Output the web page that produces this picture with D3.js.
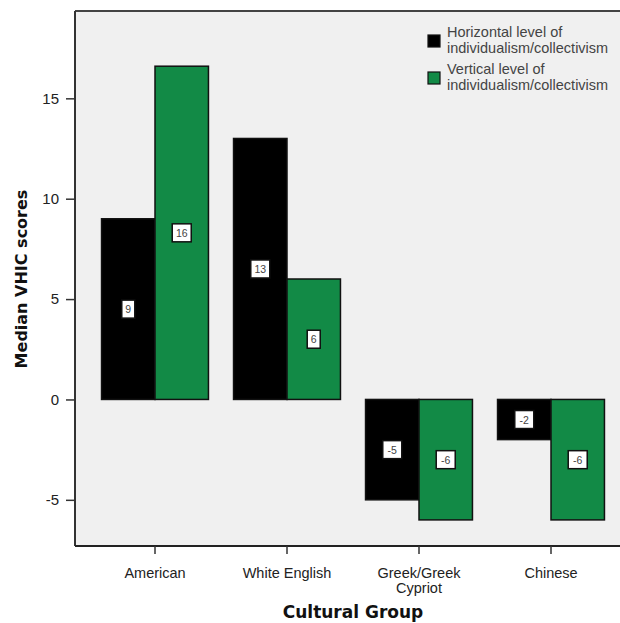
<!DOCTYPE html>
<html><head><meta charset="utf-8">
<script src="https://cdn.jsdelivr.net/npm/d3@7"></script>
<style>body{margin:0;background:#fff}svg{display:block}</style>
</head><body>
<script>
const categories = ["American", "White English", "Greek/Greek Cypriot", "Chinese"];
const categoryLines = [["American"], ["White English"], ["Greek/Greek", "Cypriot"], ["Chinese"]];
const seriesNames = ["Horizontal level of individualism/collectivism", "Vertical level of individualism/collectivism"];
const legendLines = [["Horizontal level of", "individualism/collectivism"], ["Vertical level of", "individualism/collectivism"]];
const horizontalValues = [9, 13, -5, -2];
const verticalValues = [16.6, 6, -6, -6];
const yTicks = [-5, 0, 5, 10, 15];
const colors = ["#000000", "#128a46"];

const W = 620, H = 623;
const pLeft = 75, pTop = 11, pBottom = 546;
const svg = d3.select("body").append("svg").attr("width", W).attr("height", H);

const x = d3.scaleBand().domain(categories).range([89, 617]).paddingInner(0.19).paddingOuter(0.095);
const xs = d3.scaleBand().domain([0, 1]).range([0, x.bandwidth()]);
const y = d3.scaleLinear().domain([-7.3, 19.35]).range([pBottom, pTop]);

svg.append("rect").attr("x", pLeft).attr("y", pTop).attr("width", W - pLeft + 5).attr("height", pBottom - pTop)
  .attr("fill", "#f0f0f0");
svg.append("line").attr("x1", pLeft).attr("x2", W).attr("y1", pTop).attr("y2", pTop).attr("stroke", "#444").attr("stroke-width", 2);

const data = categories.map((c, i) => ({c, vals: [horizontalValues[i], verticalValues[i]]}));
const g = svg.append("g");
data.forEach(d => {
  d.vals.forEach((v, k) => {
    const bx = x(d.c) + xs(k);
    g.append("rect").attr("x", bx).attr("width", xs.bandwidth())
      .attr("y", y(Math.max(0, v))).attr("height", Math.abs(y(v) - y(0)))
      .attr("fill", colors[k]).attr("stroke", "#111").attr("stroke-width", 1.5);
  });
});
data.forEach(d => {
  d.vals.forEach((v, k) => {
    const cx = x(d.c) + xs(k) + xs.bandwidth() / 2;
    const cy = y(v / 2);
    const txt = String(Math.trunc(v));
    const w = txt.length * 6 + 7;
    g.append("rect").attr("x", cx - w / 2).attr("y", cy - 9).attr("width", w).attr("height", 18)
      .attr("fill", "#fff").attr("stroke", "#111").attr("stroke-width", 1.5);
    g.append("text").attr("x", cx).attr("y", cy + 4).attr("text-anchor", "middle")
      .attr("font-family", "Liberation Sans, Arial, sans-serif").attr("font-size", 10.5).attr("fill", "#444").text(txt);
  });
});

const yAxis = svg.append("g").attr("transform", `translate(${pLeft},0)`)
  .call(d3.axisLeft(y).tickValues(yTicks).tickSize(9).tickPadding(7).tickFormat(d => String(d)));
yAxis.select(".domain").attr("stroke", "#333").attr("stroke-width", 2).attr("d", `M0,${pTop}V${pBottom}`);
yAxis.selectAll(".tick line").attr("stroke", "#333").attr("stroke-width", 1.5);
yAxis.selectAll(".tick text").attr("font-family", "Liberation Sans, Arial, sans-serif").attr("font-size", 15).attr("fill", "#222");

const xAxis = svg.append("g").attr("transform", `translate(0,${pBottom})`)
  .call(d3.axisBottom(x).tickSize(8).tickFormat(""));
xAxis.select(".domain").attr("stroke", "#222").attr("stroke-width", 2).attr("d", `M${pLeft},0H${W}`);
xAxis.selectAll(".tick line").attr("stroke", "#333").attr("stroke-width", 1.5);
xAxis.selectAll(".tick").each(function(d, i) {
  const t = d3.select(this).append("text").attr("fill", "#222").attr("text-anchor", "middle")
    .attr("font-family", "Liberation Sans, Arial, sans-serif").attr("font-size", 14.5).attr("y", 32);
  categoryLines[i].forEach((ln, j) => t.append("tspan").attr("x", 0).attr("dy", j === 0 ? 0 : 15).text(ln));
});

svg.append("text").attr("x", 353).attr("y", 618).attr("text-anchor", "middle")
  .attr("font-family", "DejaVu Sans, Verdana, sans-serif").attr("font-weight", "bold").attr("font-size", 17)
  .attr("fill", "#111").text("Cultural Group");
svg.append("text").attr("transform", "translate(27,279) rotate(-90)").attr("text-anchor", "middle")
  .attr("font-family", "DejaVu Sans, Verdana, sans-serif").attr("font-weight", "bold").attr("font-size", 16)
  .attr("fill", "#111").text("Median VHIC scores");

const leg = svg.append("g").attr("transform", "translate(428,34)");
seriesNames.forEach((s, i) => {
  const gy = i * 37;
  leg.append("rect").attr("x", 0).attr("y", gy + 1).attr("width", 12).attr("height", 12)
    .attr("fill", colors[i]).attr("stroke", "#111").attr("stroke-width", 1.2);
  const t = leg.append("text").attr("font-family", "Liberation Sans, Arial, sans-serif").attr("font-size", 14.5).attr("fill", "#444");
  legendLines[i].forEach((ln, j) => t.append("tspan").attr("x", 19).attr("y", gy + 3 + j * 16).text(ln));
});
</script>
</body></html>
